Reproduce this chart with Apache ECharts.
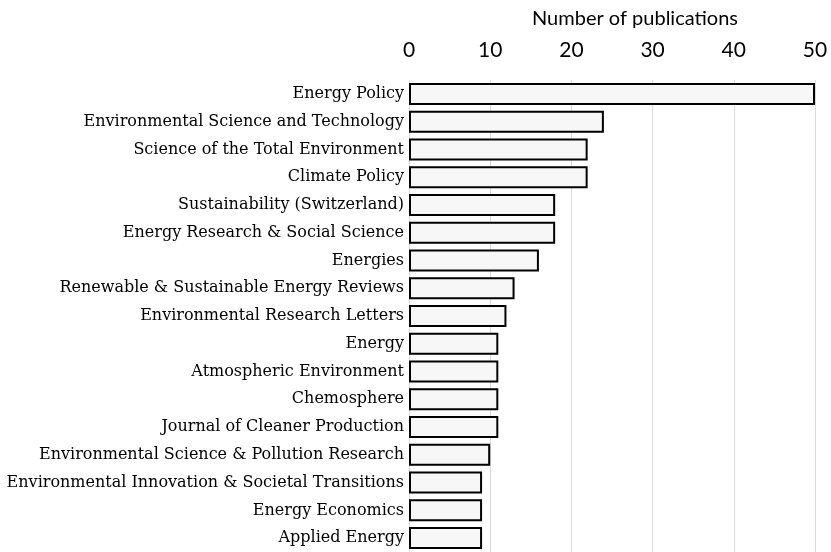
<!DOCTYPE html>
<html><head><meta charset="utf-8">
<script src="https://cdn.jsdelivr.net/npm/echarts@6/dist/echarts.min.js"></script>
<style>html,body{margin:0;padding:0;background:#fff}#c{width:831px;height:552px}</style>
</head><body><div id="c"></div>
<script>
var journals = ["Energy Policy","Environmental Science and Technology","Science of the Total Environment","Climate Policy","Sustainability (Switzerland)","Energy Research & Social Science","Energies","Renewable & Sustainable Energy Reviews","Environmental Research Letters","Energy","Atmospheric Environment","Chemosphere","Journal of Cleaner Production","Environmental Science & Pollution Research","Environmental Innovation & Societal Transitions","Energy Economics","Applied Energy"];
var publications = [50,24,22,22,18,18,16,13,12,11,11,11,11,10,9,9,9];
var xTicks = [0,10,20,30,40,50];
var chart = echarts.init(document.getElementById('c'));
chart.setOption({
  animation:false,
  grid:{left:409,right:16,top:80,bottom:0,containLabel:false,outerBoundsMode:'none'},
  xAxis:{type:'value',position:'top',min:xTicks[0],max:xTicks[xTicks.length-1],interval:10,
    name:'Number of publications',nameLocation:'middle',nameGap:51,
    nameTextStyle:{fontFamily:'Lato',fontSize:20,color:'#000',padding:[0,0,0,46]},
    axisLine:{show:false},axisTick:{show:false},
    axisLabel:{fontFamily:'Lato',fontSize:21,color:'#000',margin:19},
    splitLine:{show:true,lineStyle:{color:'#d9d9d9',width:1}}},
  yAxis:{type:'category',data:journals,inverse:true,
    axisLine:{show:false},axisTick:{show:false},
    axisLabel:{fontFamily:'DejaVu Serif',fontSize:16,color:'#000',margin:5}},
  series:[{type:'bar',data:publications,barWidth:22,
    itemStyle:{color:'#f7f7f7',borderColor:'#000',borderWidth:2}}]
});
</script></body></html>
